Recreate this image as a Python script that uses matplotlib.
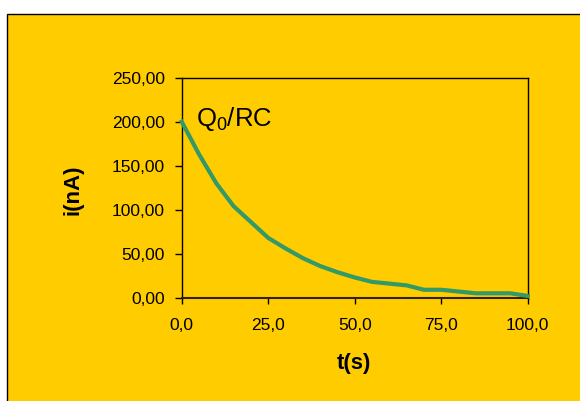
import matplotlib
matplotlib.use("Agg")
import matplotlib.pyplot as plt
from matplotlib.patches import Rectangle
from matplotlib.ticker import FuncFormatter, MultipleLocator

plt.rcParams['font.family'] = ['Liberation Sans', 'DejaVu Sans']
plt.rcParams['mathtext.fontset'] = 'custom'
plt.rcParams['mathtext.rm'] = 'Liberation Sans'
plt.rcParams['mathtext.it'] = 'Liberation Sans'

# Discharge current of the capacitor, sampled every 5 s
t_s = [0, 5, 10, 15, 20, 25, 30, 35, 40, 45, 50,
       55, 60, 65, 70, 75, 80, 85, 90, 95, 100]
i_nA = [200, 163, 130, 104, 86, 68, 56, 45, 36, 29, 23,
        18, 16, 14, 9, 9, 7, 5, 5, 5, 2]

x_label = "t(s)"
y_label = "i(nA)"

YELLOW = "#FFCC00"
GREEN = "#339966"

fig = plt.figure(figsize=(5.80, 4.01), dpi=100)
fig.patch.set_facecolor("white")

# chart area background with its border
fig.patches.append(Rectangle((7.3 / 580, -0.2), 1.5, 0.2 + (1 - 14 / 401),
                             transform=fig.transFigure, facecolor=YELLOW,
                             edgecolor="black", linewidth=1.0, zorder=-10))

ax = fig.add_axes([181.7 / 580, 103.3 / 401, 346.0 / 580, 220.0 / 401])
ax.set_facecolor(YELLOW)
ax.plot(t_s, i_nA, color=GREEN, linewidth=3.0, solid_joinstyle="miter",
        clip_on=False, zorder=3)

ax.set_xlim(0, 100)
ax.set_ylim(0, 250)
ax.xaxis.set_major_locator(MultipleLocator(25))
ax.yaxis.set_major_locator(MultipleLocator(50))
ax.xaxis.set_major_formatter(FuncFormatter(lambda v, p: f"{v:.1f}".replace(".", ",")))
ax.yaxis.set_major_formatter(FuncFormatter(lambda v, p: f"{v:.2f}".replace(".", ",")))

for s in ax.spines.values():
    s.set_color("black")
    s.set_linewidth(1.0)
ax.spines["bottom"].set_linewidth(1.5)
ax.spines["bottom"].set_color("#332200")

ax.tick_params(axis="y", direction="out", length=5, width=1, pad=7,
               labelsize=12.5, colors="black")
ax.tick_params(axis="x", direction="out", length=4.5, width=1, pad=10,
               labelsize=12.5, colors="black")

ax.set_xlabel(x_label, fontsize=16, fontweight="bold")
ax.set_ylabel(y_label, fontsize=16, fontweight="bold")
ax.xaxis.set_label_coords(0.499, -0.252)
ax.yaxis.set_label_coords(-0.283, 0.49)

ax.text(196 / 580, 1 - 126 / 401, r"Q$_{0}$/RC", transform=fig.transFigure,
        fontsize=18.5, color="black", ha="left", va="baseline")

fig.savefig("out.png", dpi=100, facecolor=fig.get_facecolor())
